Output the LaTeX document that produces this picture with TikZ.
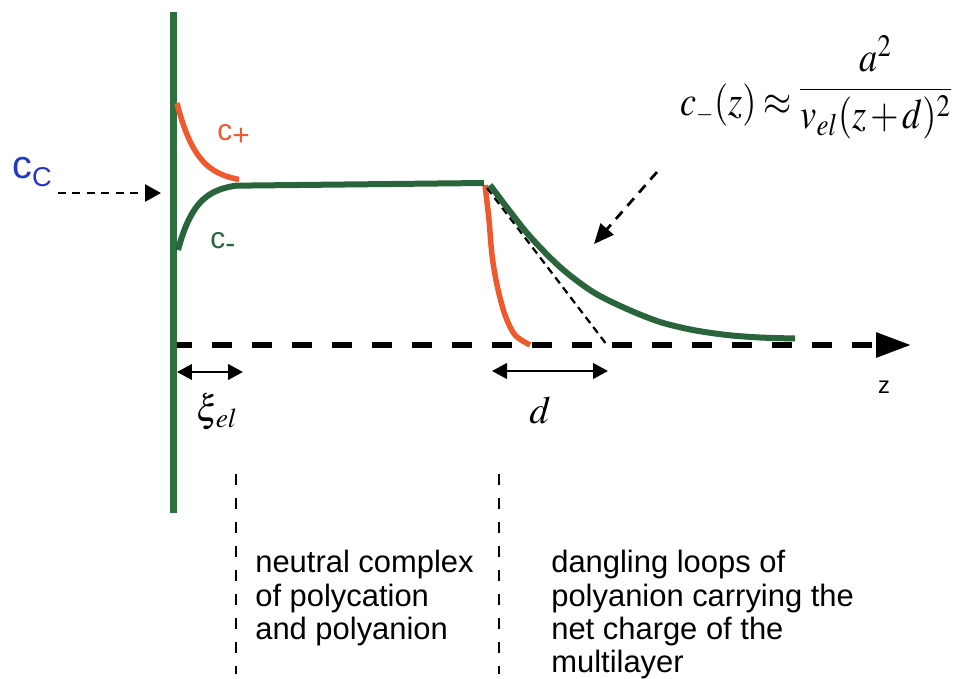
\documentclass[tikz,border=0pt]{standalone}
\usepackage{mathptmx}
\usepackage{fontspec}
\setmainfont{Liberation Serif}
\newfontfamily\arialf{Liberation Sans}
\usetikzlibrary{arrows.meta}
\definecolor{wallgreen}{RGB}{48,112,62}
\definecolor{curvgreen}{RGB}{42,100,58}
\definecolor{corange}{RGB}{240,88,45}
\definecolor{cblue}{RGB}{35,55,200}
\tikzset{
  wall/.style={wallgreen, line width=0.13cm},
  greenline/.style={curvgreen, line width=0.12cm},
  orangeline/.style={corange, line width=0.11cm},
  axisline/.style={black, line width=0.12cm, dash pattern=on 0.4cm off 0.4cm,
     -{Triangle[length=0.7cm,width=0.48cm]}},
  thindash/.style={black, line width=0.055cm, dash pattern=on 0.16cm off 0.13cm},
  tangentdash/.style={black, line width=0.045cm, dash pattern=on 0.15cm off 0.1cm},
  sepline/.style={black, line width=0.035cm, dash pattern=on 0.22cm off 0.26cm},
  dimarrow/.style={black, line width=0.05cm,
     {Triangle[length=0.3cm,width=0.31cm]}-{Triangle[length=0.3cm,width=0.31cm]}},
  blocktext/.style={font=\arialf\fontsize{17.6}{19}\selectfont, align=left, inner sep=0pt, anchor=north west},
}
\begin{document}
\begin{tikzpicture}[x=0.02cm,y=-0.02cm]
\useasboundingbox (0,0) rectangle (953,679);

% axis
\coordinate (axS) at (172,345);
\coordinate (axE) at (911,345);
\draw[axisline] (axS) -- (axE);

% wall
\coordinate (wallTop) at (173.5,12);
\coordinate (wallBot) at (173.5,513);
\draw[wall] (wallTop) -- (wallBot);

% orange curves
\draw[orangeline] plot[domain=0:62,samples=50] ({177+\x},{183-80*exp(-\x/20)});
\draw[orangeline] plot[smooth] coordinates {(485,185) (489,220) (492,255) (497,285) (505,315) (515,335) (530,345)};

% tangent
\coordinate (tanA) at (487,188);
\coordinate (tanB) at (607,345);
\draw[tangentdash] (tanA) -- (tanB);

% green curves
\draw[greenline] plot[domain=0:58,samples=50] ({178+\x},{183+67*exp(-\x/18)}) -- (484,183);
\draw[greenline] plot[smooth] coordinates {(490,185) (527,233) (560,267) (593,292) (627,309) (660,322) (693,330) (727,335) (760,337.5) (795,338.5)};

% cC arrow
\node[cblue, anchor=base west, inner sep=0pt, font=\arialf] (cC) at (12,178)
  {{\fontsize{22.5}{24}\selectfont c}{\fontsize{15.5}{18}\selectfont\raisebox{-0.18cm}{C}}};
\coordinate (cCa) at (58,193);
\coordinate (cCb) at (161,193);
\draw[thindash, -{Triangle[length=0.32cm,width=0.34cm]}] (cCa) -- (cCb);

% c+ and c- labels
\node[corange, anchor=base west, inner sep=0pt, font=\arialf\fontsize{17}{18}\selectfont] (cplus) at (217,140)
  {c\raisebox{-0.12cm}{+}};
\node[curvgreen, anchor=base west, inner sep=0pt, font=\arialf\fontsize{17}{18}\selectfont] (cminus) at (210,248)
  {c\raisebox{-0.1cm}{-}};

% formula
\node[anchor=base west, inner sep=0pt, font=\fontsize{24}{28}\selectfont] (formula) at (680,115)
  {\scalebox{0.86}[1]{$\thickmuskip=3.5mu\medmuskip=2mu c_{\scriptscriptstyle -}(z)\approx
   \raisebox{0.3cm}{$\displaystyle\frac{a^{2}}{v_{el}(z+d)^{2}}$}$}};
\coordinate (fa1) at (657,172);
\coordinate (fa2) at (594,244);
\draw[thindash, dash pattern=on 0.2cm off 0.15cm, -{Triangle[length=0.4cm,width=0.34cm]}] (fa1) -- (fa2);

% xi arrow
\coordinate (xiA) at (177,372);
\coordinate (xiB) at (243,372);
\draw[dimarrow] (xiA) -- (xiB);
\node[inner sep=0pt, font=\fontsize{21}{24}\selectfont] (xi) at (217,412) {$\xi_{\mkern1mu el}$};

% d arrow
\coordinate (dA) at (492,371);
\coordinate (dB) at (608,371);
\draw[dimarrow] (dA) -- (dB);
\node[inner sep=0pt, font=\fontsize{22}{26}\selectfont] (dlab) at (540,410) {$d$};

% z
\node[inner sep=0pt, font=\arialf\fontsize{13.5}{15}\selectfont] (zlab) at (884,387) {z};

% separators
\coordinate (s1a) at (236,474);
\coordinate (s1b) at (236,674);
\coordinate (s2a) at (499,474);
\coordinate (s2b) at (499,674);
\draw[sepline] (s1a) -- (s1b);
\draw[sepline] (s2a) -- (s2b);

% text blocks
\node[blocktext] (t1) at (255,550) {neutral complex\\of polycation\\and polyanion};
\node[blocktext] (t2) at (551,550) {dangling loops of\\polyanion carrying the\\net charge of the\\multilayer};
\end{tikzpicture}
\end{document}
